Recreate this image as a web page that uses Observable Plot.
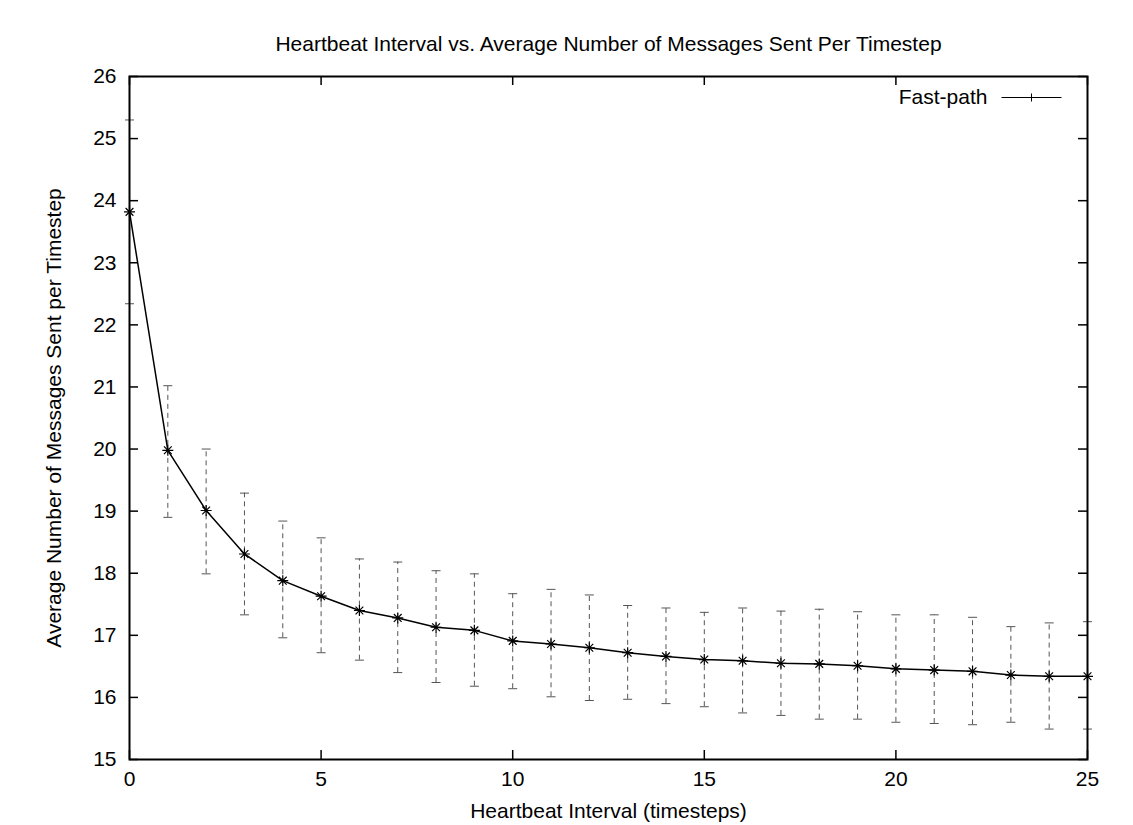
<!DOCTYPE html>
<html><head><meta charset="utf-8">
<script src="https://cdn.jsdelivr.net/npm/d3@7"></script>
<script src="https://cdn.jsdelivr.net/npm/@observablehq/plot@0.6"></script>
<style>body{margin:0;background:#fff;}</style>
</head><body><div id="chart"></div>
<script>
const title = "Heartbeat Interval vs. Average Number of Messages Sent Per Timestep";
const xLabel = "Heartbeat Interval (timesteps)";
const yLabel = "Average Number of Messages Sent per Timestep";
const seriesName = "Fast-path";
const interval = [0,1,2,3,4,5,6,7,8,9,10,11,12,13,14,15,16,17,18,19,20,21,22,23,24,25];
const means = [23.82,19.98,19.01,18.31,17.88,17.63,17.40,17.28,17.13,17.08,16.91,16.86,16.80,16.72,16.66,16.61,16.59,16.55,16.54,16.51,16.46,16.44,16.42,16.36,16.34,16.34];
const upper = [25.30,21.02,20.00,19.29,18.84,18.57,18.23,18.18,18.04,17.99,17.67,17.74,17.65,17.48,17.44,17.37,17.44,17.39,17.42,17.38,17.33,17.33,17.29,17.14,17.20,17.22];
const lower = [22.34,18.90,17.99,17.33,16.96,16.72,16.60,16.40,16.24,16.18,16.14,16.01,15.95,15.97,15.90,15.85,15.75,15.71,15.65,15.65,15.60,15.58,15.56,15.60,15.49,15.49];
const xTicks = [0,5,10,15,20,25];
const yTicks = [15,16,17,18,19,20,21,22,23,24,25,26];

const W = 1133, H = 825, mL = 129, mR = 46, mT = 76, mB = 66;
const innerW = W - mL - mR, innerH = H - mT - mB;
const tickLen = 9;
const rows = interval.map((x, i) => ({x, mean: means[i], lo: lower[i], hi: upper[i]}));

const star = {draw(ctx, size) {
  const r = Math.sqrt(size / Math.PI);
  for (const a of [0, 45, 90, 135]) {
    const t = a * Math.PI / 180;
    ctx.moveTo(-r * Math.cos(t), -r * Math.sin(t));
    ctx.lineTo(r * Math.cos(t), r * Math.sin(t));
  }
}};
const cap = {draw(ctx, size) {
  const r = Math.sqrt(size / Math.PI);
  ctx.moveTo(-r, 0); ctx.lineTo(r, 0);
}};
const legendSym = {draw(ctx, size) {
  ctx.moveTo(-30, 0); ctx.lineTo(30, 0);
  ctx.moveTo(0, -4); ctx.lineTo(0, 4);
}};

const font = "'Liberation Sans', Arial, Helvetica, sans-serif";

const chart = Plot.plot({
  width: W, height: H,
  marginLeft: mL, marginRight: mR, marginTop: mT, marginBottom: mB,
  x: {domain: [0, 25]},
  y: {domain: [15, 26]},
  style: {fontFamily: font, fontSize: "21px", color: "#000", background: "#fff"},
  marks: [
    // error bars
    Plot.ruleX(rows, {x: "x", y1: "lo", y2: "hi", stroke: "#555", strokeWidth: 1, strokeDasharray: "5,4"}),
    Plot.dot(rows, {x: "x", y: "hi", symbol: cap, r: 4.5, fill: "none", stroke: "#555", strokeWidth: 1}),
    Plot.dot(rows, {x: "x", y: "lo", symbol: cap, r: 4.5, fill: "none", stroke: "#555", strokeWidth: 1}),
    // line + points
    Plot.line(rows, {x: "x", y: "mean", stroke: "#000", strokeWidth: 1.5, curve: "linear"}),
    Plot.dot(rows, {x: "x", y: "mean", symbol: star, r: 5.5, fill: "none", stroke: "#000", strokeWidth: 1.2}),
    // ticks inward on all four sides
    Plot.tickX(xTicks, {x: d => d, insetTop: innerH - tickLen, stroke: "#000", strokeWidth: 1.5}),
    Plot.tickX(xTicks, {x: d => d, insetBottom: innerH - tickLen, stroke: "#000", strokeWidth: 1.5}),
    Plot.tickY(yTicks, {y: d => d, insetRight: innerW - tickLen, stroke: "#000", strokeWidth: 1.5}),
    Plot.tickY(yTicks, {y: d => d, insetLeft: innerW - tickLen, stroke: "#000", strokeWidth: 1.5}),
    Plot.frame({stroke: "#000", strokeWidth: 2}),
    Plot.axisX(xTicks, {tickSize: 0, tickPadding: 12, label: null, fontSize: 21, tickFormat: "d"}),
    Plot.axisY(yTicks, {tickSize: 0, tickPadding: 13, label: null, fontSize: 21, tickFormat: "d"}),
    // labels
    Plot.text([title], {frameAnchor: "top", dy: -32, lineAnchor: "middle", text: d => d, fontSize: 21}),
    Plot.text([xLabel], {frameAnchor: "bottom", dy: 52, lineAnchor: "middle", text: d => d, fontSize: 21}),
    Plot.text([yLabel], {frameAnchor: "left", dx: -75, rotate: -90, textAnchor: "middle", lineAnchor: "middle", text: d => d, fontSize: 21}),
    // legend
    Plot.text([seriesName], {frameAnchor: "top-right", dx: -100, dy: 21, textAnchor: "end", lineAnchor: "middle", text: d => d, fontSize: 21}),
    Plot.dot([seriesName], {frameAnchor: "top-right", dx: -56, dy: 21, symbol: legendSym, r: 4, fill: "none", stroke: "#000", strokeWidth: 1})
  ]
});
document.getElementById("chart").appendChild(chart);
</script>
</body></html>
